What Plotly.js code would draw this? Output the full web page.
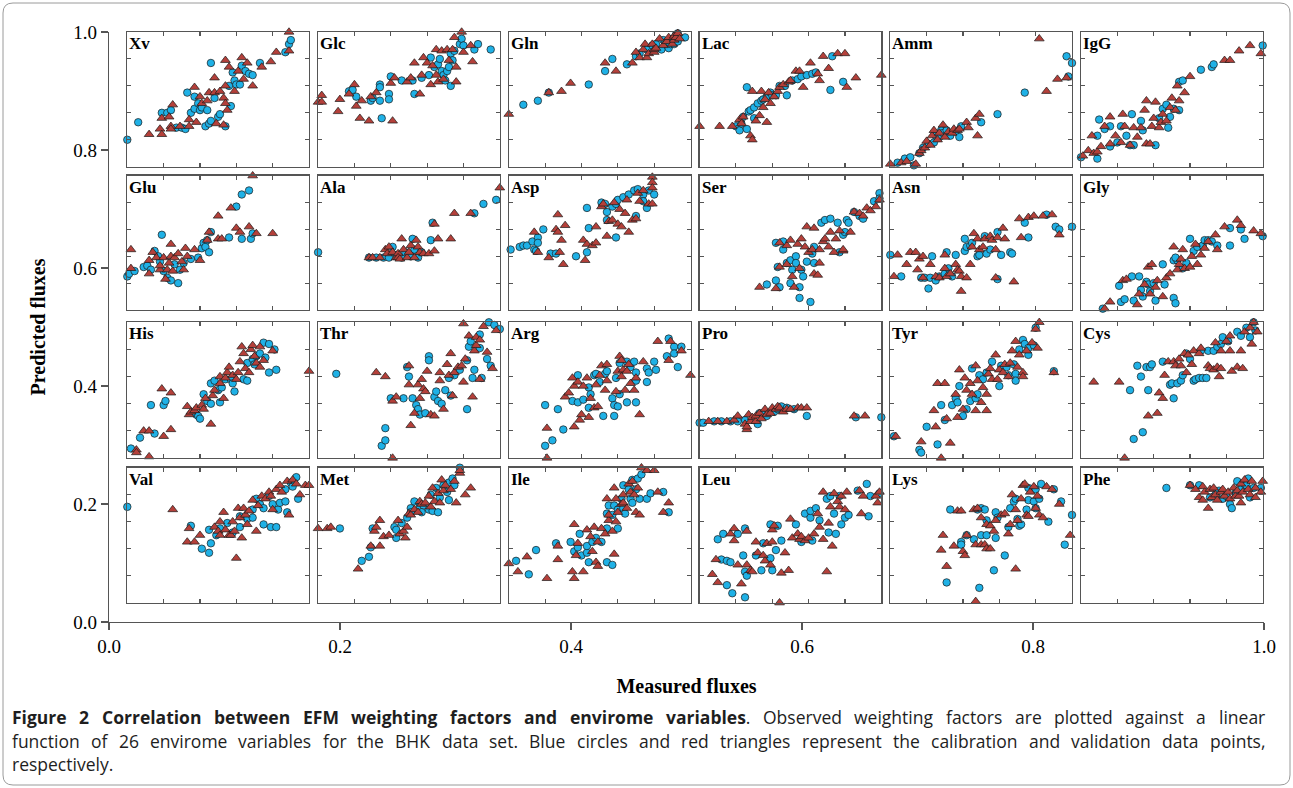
<!DOCTYPE html>
<html><head><meta charset="utf-8">
<script src="https://cdn.plot.ly/plotly-3.0.1.min.js"></script>
<style>html,body{margin:0;padding:0;background:#fff}#chart{width:1293px;height:788px}</style>
</head><body><div id="chart"></div>
<script>
const panelNames = ['Xv','Glc','Gln','Lac','Amm','IgG','Glu','Ala','Asp','Ser','Asn','Gly','His','Thr','Arg','Pro','Tyr','Cys','Val','Met','Ile','Leu','Lys','Phe'];
const outerTickValues = [0, 0.2, 0.4, 0.6, 0.8, 1.0];
const outerTickLabels = ['0.0', '0.2', '0.4', '0.6', '0.8', '1.0'];
const panelTickValues = [0.2, 0.4, 0.6, 0.8];
const xTitle = 'Measured fluxes';
const yTitle = 'Predicted fluxes';
const captionLines = [
  '<b>Figure 2 Correlation between EFM weighting factors and envirome variables</b>. Observed weighting factors are plotted against a linear',
  'function of 26 envirome variables for the BHK data set. Blue circles and red triangles represent the calibration and validation data points,',
  'respectively.'
];

// panel-local [measured, predicted] pairs; cal = blue circles, val = red triangles
const cal_Xv = [[0,0.2],[0.06,0.33],[0.19,0.4],[0.22,0.4],[0.24,0.42],[0.27,0.29],[0.3,0.29],[0.32,0.28],[0.33,0.55],[0.35,0.4],[0.37,0.52],[0.37,0.43],[0.39,0.47],[0.4,0.42],[0.41,0.44],[0.44,0.42],[0.43,0.3],[0.45,0.32],[0.46,0.34],[0.46,0.77],[0.48,0.51],[0.5,0.37],[0.51,0.39],[0.54,0.3],[0.57,0.45],[0.56,0.6],[0.58,0.7],[0.59,0.64],[0.6,0.61],[0.62,0.61],[0.63,0.75],[0.65,0.71],[0.67,0.69],[0.69,0.68],[0.73,0.77],[0.87,0.85],[0.89,0.91],[0.9,0.94]];
const val_Xv = [[0.12,0.24],[0.18,0.28],[0.19,0.24],[0.19,0.36],[0.23,0.37],[0.25,0.46],[0.24,0.3],[0.24,0.28],[0.29,0.3],[0.34,0.35],[0.34,0.3],[0.38,0.33],[0.37,0.59],[0.4,0.52],[0.41,0.47],[0.44,0.49],[0.45,0.55],[0.48,0.55],[0.48,0.66],[0.49,0.32],[0.51,0.56],[0.53,0.51],[0.54,0.6],[0.54,0.79],[0.53,0.31],[0.54,0.47],[0.55,0.42],[0.56,0.74],[0.59,0.56],[0.61,0.71],[0.63,0.81],[0.64,0.65],[0.66,0.77],[0.69,0.6],[0.74,0.74],[0.79,0.78],[0.82,0.85],[0.89,0.86],[0.89,1.0]];
const cal_Glc = [[0.17,0.56],[0.19,0.57],[0.21,0.52],[0.29,0.49],[0.3,0.51],[0.34,0.49],[0.34,0.61],[0.34,0.59],[0.35,0.36],[0.39,0.54],[0.39,0.5],[0.4,0.67],[0.46,0.64],[0.52,0.64],[0.53,0.54],[0.57,0.66],[0.61,0.68],[0.62,0.81],[0.64,0.74],[0.66,0.76],[0.67,0.8],[0.68,0.71],[0.69,0.68],[0.7,0.64],[0.71,0.71],[0.72,0.74],[0.73,0.84],[0.74,0.79],[0.73,0.6],[0.75,0.86],[0.78,0.91],[0.79,0.95],[0.8,0.9],[0.86,0.87],[0.88,0.91],[0.95,0.87]];
const val_Glc = [[0,0.48],[0.02,0.48],[0.02,0.53],[0.11,0.41],[0.12,0.5],[0.17,0.54],[0.2,0.61],[0.21,0.45],[0.23,0.36],[0.24,0.49],[0.28,0.34],[0.29,0.52],[0.32,0.55],[0.4,0.62],[0.41,0.34],[0.42,0.66],[0.49,0.63],[0.51,0.66],[0.53,0.77],[0.56,0.54],[0.57,0.68],[0.58,0.81],[0.6,0.77],[0.62,0.61],[0.63,0.75],[0.65,0.87],[0.65,0.68],[0.66,0.63],[0.68,0.86],[0.69,0.65],[0.71,0.87],[0.72,0.79],[0.74,0.87],[0.75,0.96],[0.76,0.74],[0.76,0.63],[0.79,1.0],[0.8,0.85],[0.84,0.9],[0.85,0.78]];
const cal_Gln = [[0.08,0.46],[0.16,0.49],[0.22,0.55],[0.44,0.61],[0.53,0.71],[0.57,0.8],[0.65,0.76],[0.7,0.82],[0.72,0.84],[0.76,0.87],[0.79,0.9],[0.81,0.91],[0.84,0.87],[0.85,0.94],[0.86,0.92],[0.88,0.88],[0.89,0.91],[0.9,0.95],[0.91,0.91],[0.92,0.98],[0.93,0.99],[0.93,0.93],[0.97,0.96]];
const val_Gln = [[0,0.39],[0.22,0.55],[0.29,0.56],[0.34,0.62],[0.53,0.77],[0.59,0.71],[0.68,0.77],[0.7,0.85],[0.72,0.81],[0.74,0.87],[0.75,0.91],[0.76,0.81],[0.77,0.84],[0.79,0.91],[0.8,0.85],[0.8,0.87],[0.81,0.88],[0.83,0.95],[0.85,0.9],[0.87,0.93],[0.88,0.96],[0.9,0.91],[0.91,0.97],[0.91,0.94],[0.92,0.96],[0.93,0.99],[0.94,0.95]];
const cal_Lac = [[0.2,0.3],[0.22,0.27],[0.23,0.32],[0.24,0.37],[0.26,0.28],[0.26,0.59],[0.27,0.41],[0.28,0.42],[0.3,0.44],[0.3,0.36],[0.32,0.47],[0.34,0.49],[0.35,0.5],[0.37,0.52],[0.39,0.55],[0.4,0.53],[0.42,0.53],[0.44,0.6],[0.47,0.6],[0.48,0.53],[0.51,0.64],[0.54,0.65],[0.56,0.67],[0.59,0.68],[0.62,0.69],[0.64,0.7],[0.72,0.57],[0.73,0.82],[0.79,0.63]];
const val_Lac = [[0,0.3],[0.11,0.3],[0.18,0.3],[0.22,0.35],[0.23,0.32],[0.24,0.37],[0.28,0.23],[0.29,0.2],[0.29,0.56],[0.31,0.34],[0.33,0.38],[0.34,0.56],[0.35,0.44],[0.36,0.5],[0.37,0.33],[0.38,0.55],[0.39,0.47],[0.41,0.52],[0.43,0.56],[0.44,0.59],[0.46,0.61],[0.49,0.63],[0.5,0.64],[0.53,0.71],[0.55,0.71],[0.57,0.59],[0.61,0.77],[0.65,0.69],[0.66,0.64],[0.68,0.82],[0.71,0.73],[0.76,0.84],[0.8,0.84],[0.81,0.59],[0.86,0.66],[1.0,0.68]];
const cal_Amm = [[0.04,0.03],[0.08,0.06],[0.11,0.07],[0.13,0.01],[0.16,0.1],[0.18,0.14],[0.21,0.17],[0.24,0.18],[0.25,0.23],[0.27,0.22],[0.28,0.27],[0.29,0.25],[0.31,0.27],[0.33,0.23],[0.36,0.26],[0.38,0.22],[0.39,0.3],[0.5,0.33],[0.59,0.39],[0.74,0.55],[0.97,0.82],[1.0,0.77],[0.98,0.67]];
const val_Amm = [[0,0.02],[0.06,0.03],[0.09,0.04],[0.14,0.02],[0.16,0.1],[0.17,0.12],[0.19,0.14],[0.2,0.19],[0.22,0.16],[0.23,0.23],[0.24,0.27],[0.26,0.2],[0.27,0.25],[0.29,0.31],[0.3,0.22],[0.32,0.26],[0.34,0.25],[0.35,0.28],[0.37,0.27],[0.38,0.28],[0.42,0.33],[0.43,0.29],[0.47,0.36],[0.48,0.23],[0.49,0.39],[0.82,0.95],[0.86,0.56],[0.92,0.65],[0.97,0.66]];
const cal_IgG = [[0,0.07],[0.09,0.06],[0.09,0.23],[0.1,0.35],[0.13,0.28],[0.16,0.3],[0.16,0.15],[0.2,0.18],[0.22,0.3],[0.25,0.23],[0.27,0.16],[0.28,0.39],[0.29,0.16],[0.33,0.34],[0.34,0.27],[0.41,0.16],[0.43,0.36],[0.45,0.43],[0.47,0.46],[0.48,0.29],[0.49,0.37],[0.51,0.43],[0.54,0.42],[0.54,0.63],[0.56,0.64],[0.66,0.72],[0.72,0.74],[0.73,0.76],[1.0,0.9]];
const val_IgG = [[0.01,0.08],[0.04,0.12],[0.06,0.23],[0.07,0.1],[0.09,0.11],[0.11,0.15],[0.13,0.3],[0.16,0.37],[0.16,0.17],[0.19,0.23],[0.22,0.18],[0.23,0.39],[0.24,0.3],[0.27,0.16],[0.29,0.29],[0.31,0.22],[0.33,0.29],[0.35,0.42],[0.36,0.49],[0.36,0.17],[0.38,0.17],[0.39,0.3],[0.4,0.36],[0.41,0.48],[0.43,0.29],[0.44,0.33],[0.45,0.39],[0.47,0.34],[0.49,0.44],[0.5,0.51],[0.52,0.42],[0.53,0.6],[0.54,0.49],[0.57,0.55],[0.6,0.67],[0.79,0.79],[0.82,0.79],[0.87,0.86],[0.93,0.9],[0.99,0.84]];
const cal_Glu = [[0,0.25],[0.01,0.27],[0.04,0.29],[0.09,0.32],[0.11,0.33],[0.13,0.3],[0.15,0.44],[0.17,0.4],[0.18,0.36],[0.19,0.56],[0.2,0.29],[0.22,0.24],[0.24,0.22],[0.26,0.34],[0.28,0.2],[0.29,0.3],[0.31,0.35],[0.35,0.38],[0.39,0.39],[0.41,0.46],[0.42,0.5],[0.43,0.47],[0.44,0.52],[0.45,0.43],[0.46,0.58],[0.56,0.54],[0.6,0.77],[0.63,0.53],[0.63,0.86],[0.67,0.89],[0.68,0.53],[0.69,0.57]];
const val_Glu = [[0.02,0.31],[0.02,0.45],[0.12,0.37],[0.12,0.27],[0.14,0.43],[0.16,0.39],[0.18,0.3],[0.18,0.33],[0.2,0.39],[0.21,0.23],[0.22,0.3],[0.23,0.35],[0.24,0.4],[0.24,0.49],[0.25,0.29],[0.26,0.39],[0.28,0.42],[0.3,0.36],[0.31,0.3],[0.32,0.46],[0.33,0.4],[0.37,0.45],[0.4,0.37],[0.44,0.52],[0.45,0.58],[0.5,0.53],[0.5,0.7],[0.52,0.53],[0.57,0.76],[0.6,0.61],[0.62,0.58],[0.67,0.62],[0.69,1.0],[0.71,0.57],[0.8,0.57]];
const cal_Ala = [[0,0.43],[0.28,0.39],[0.32,0.39],[0.36,0.39],[0.39,0.39],[0.41,0.47],[0.43,0.41],[0.46,0.39],[0.48,0.43],[0.51,0.4],[0.52,0.53],[0.53,0.45],[0.55,0.39],[0.57,0.43],[0.62,0.52],[0.63,0.65],[0.86,0.72],[0.91,0.79],[0.98,0.82]];
const val_Ala = [[0.28,0.39],[0.3,0.39],[0.34,0.39],[0.37,0.45],[0.38,0.42],[0.39,0.47],[0.41,0.43],[0.43,0.39],[0.44,0.42],[0.44,0.39],[0.45,0.38],[0.46,0.53],[0.47,0.45],[0.49,0.39],[0.5,0.43],[0.51,0.48],[0.53,0.39],[0.54,0.52],[0.55,0.47],[0.56,0.43],[0.58,0.42],[0.61,0.42],[0.64,0.44],[0.64,0.64],[0.66,0.53],[0.73,0.53],[0.75,0.72],[0.84,0.72],[1.0,0.91]];
const cal_Asp = [[0.01,0.45],[0.06,0.47],[0.08,0.48],[0.1,0.48],[0.13,0.51],[0.14,0.45],[0.15,0.44],[0.16,0.54],[0.16,0.5],[0.19,0.6],[0.23,0.42],[0.26,0.42],[0.37,0.4],[0.43,0.76],[0.43,0.43],[0.44,0.61],[0.51,0.8],[0.53,0.79],[0.54,0.73],[0.54,0.67],[0.57,0.77],[0.59,0.79],[0.59,0.54],[0.6,0.82],[0.63,0.84],[0.66,0.86],[0.69,0.89],[0.7,0.7],[0.71,0.9],[0.74,0.86],[0.74,0.81],[0.76,0.76],[0.77,0.89],[0.8,0.86]];
const val_Asp = [[0.14,0.58],[0.16,0.43],[0.22,0.39],[0.26,0.6],[0.27,0.71],[0.27,0.58],[0.28,0.43],[0.29,0.52],[0.3,0.34],[0.31,0.63],[0.41,0.52],[0.42,0.37],[0.43,0.49],[0.46,0.48],[0.48,0.5],[0.48,0.62],[0.51,0.77],[0.52,0.79],[0.54,0.55],[0.55,0.66],[0.57,0.67],[0.58,0.8],[0.6,0.64],[0.61,0.75],[0.62,0.62],[0.64,0.72],[0.65,0.82],[0.66,0.58],[0.68,0.67],[0.7,0.68],[0.71,0.87],[0.72,0.81],[0.74,0.89],[0.77,0.79],[0.79,0.99],[0.79,0.95],[0.79,0.91],[0.79,0.79]];
const cal_Ser = [[0.37,0.19],[0.42,0.5],[0.43,0.32],[0.42,0.22],[0.44,0.17],[0.46,0.51],[0.46,0.45],[0.48,0.35],[0.5,0.2],[0.5,0.37],[0.51,0.3],[0.53,0.4],[0.53,0.35],[0.55,0.17],[0.55,0.09],[0.56,0.3],[0.57,0.25],[0.59,0.36],[0.61,0.06],[0.62,0.42],[0.63,0.35],[0.63,0.47],[0.67,0.65],[0.69,0.67],[0.72,0.68],[0.76,0.65],[0.79,0.56],[0.8,0.58],[0.77,0.43],[0.81,0.67],[0.82,0.65],[0.85,0.73],[0.88,0.7],[0.9,0.68],[0.96,0.81],[0.99,0.87],[0.99,0.83]];
const val_Ser = [[0.33,0.17],[0.42,0.16],[0.44,0.32],[0.44,0.5],[0.48,0.34],[0.48,0.48],[0.5,0.52],[0.51,0.25],[0.52,0.17],[0.54,0.49],[0.55,0.31],[0.56,0.53],[0.57,-0.02],[0.58,0.47],[0.59,0.62],[0.6,0.43],[0.62,0.45],[0.63,0.27],[0.65,0.26],[0.66,0.35],[0.66,0.45],[0.68,0.51],[0.69,0.53],[0.71,0.47],[0.72,0.58],[0.74,0.43],[0.75,0.53],[0.77,0.59],[0.79,0.44],[0.79,0.45],[0.83,0.58],[0.85,0.73],[0.88,0.72],[0.9,0.7],[0.92,0.76],[0.94,0.74],[0.97,0.77],[0.99,0.82],[0.63,0.61]];
const cal_Asn = [[0,0.41],[0.06,0.25],[0.17,0.24],[0.19,0.24],[0.21,0.16],[0.22,0.24],[0.23,0.4],[0.25,0.22],[0.27,0.25],[0.3,0.27],[0.31,0.43],[0.32,0.31],[0.34,0.25],[0.36,0.41],[0.41,0.53],[0.41,0.44],[0.42,0.47],[0.44,0.48],[0.45,0.5],[0.48,0.4],[0.49,0.41],[0.52,0.55],[0.53,0.42],[0.55,0.45],[0.59,0.58],[0.59,0.23],[0.61,0.41],[0.66,0.43],[0.67,0.42],[0.74,0.65],[0.76,0.54],[0.86,0.71],[0.91,0.62],[0.93,0.6],[1.0,0.62]];
const val_Asn = [[0.02,0.25],[0.04,0.41],[0.09,0.34],[0.11,0.43],[0.14,0.43],[0.15,0.3],[0.16,0.38],[0.18,0.4],[0.18,0.24],[0.22,0.34],[0.25,0.25],[0.27,0.24],[0.3,0.31],[0.3,0.41],[0.31,0.25],[0.33,0.27],[0.36,0.34],[0.37,0.3],[0.38,0.29],[0.39,0.14],[0.39,0.25],[0.42,0.24],[0.44,0.34],[0.45,0.47],[0.46,0.57],[0.48,0.53],[0.49,0.45],[0.51,0.47],[0.52,0.53],[0.55,0.55],[0.56,0.52],[0.58,0.45],[0.58,0.24],[0.59,0.54],[0.62,0.61],[0.63,0.53],[0.68,0.21],[0.71,0.68],[0.72,0.54],[0.76,0.69],[0.79,0.7],[0.84,0.7],[0.89,0.71],[0.93,0.56]];
const cal_Gly = [[0.1,-0.01],[0.12,0.01],[0.21,0.18],[0.22,0.06],[0.24,0.08],[0.28,0.25],[0.29,0.07],[0.32,0.25],[0.33,0.15],[0.34,0.1],[0.36,0.21],[0.37,0.19],[0.38,0.14],[0.4,0.2],[0.41,0.07],[0.45,0.34],[0.46,0.19],[0.51,0.09],[0.52,0.05],[0.51,0.37],[0.53,0.37],[0.56,0.31],[0.58,0.35],[0.6,0.53],[0.62,0.44],[0.64,0.47],[0.67,0.48],[0.68,0.52],[0.7,0.52],[0.72,0.51],[0.75,0.48],[0.82,0.48],[0.82,0.61],[0.88,0.6],[0.9,0.53],[1.0,0.55],[0.52,0.39]];
const val_Gly = [[0.13,0.01],[0.16,0.06],[0.23,0.22],[0.25,0.23],[0.31,0.04],[0.31,-0.01],[0.32,0.12],[0.35,0.19],[0.37,0.32],[0.38,0.12],[0.39,0.34],[0.41,0.17],[0.42,0.22],[0.45,0.1],[0.47,0.24],[0.49,0.27],[0.51,0.47],[0.53,0.3],[0.54,0.34],[0.55,0.38],[0.56,0.45],[0.57,0.31],[0.6,0.32],[0.61,0.4],[0.62,-0.02],[0.63,0.49],[0.64,0.34],[0.66,0.41],[0.68,0.46],[0.7,0.51],[0.74,0.56],[0.75,0.45],[0.79,0.62],[0.86,0.67],[0.88,0.63],[0.95,0.59],[0.99,0.57]];
const cal_His = [[0.02,0.07],[0.07,0.15],[0.13,0.39],[0.15,0.18],[0.2,0.39],[0.21,0.42],[0.38,0.32],[0.39,0.31],[0.4,0.29],[0.42,0.47],[0.44,0.42],[0.46,0.4],[0.46,0.55],[0.48,0.57],[0.5,0.5],[0.51,0.41],[0.52,0.52],[0.54,0.58],[0.57,0.58],[0.58,0.55],[0.59,0.49],[0.64,0.58],[0.66,0.57],[0.66,0.7],[0.69,0.73],[0.71,0.75],[0.73,0.77],[0.75,0.85],[0.76,0.74],[0.78,0.84],[0.78,0.63],[0.81,0.8],[0.82,0.65],[0.7,0.69]];
const val_His = [[0.05,0.06],[0.05,0.04],[0.09,0.2],[0.12,0.2],[0.12,0.01],[0.2,0.16],[0.19,0.51],[0.24,0.48],[0.24,0.21],[0.33,0.38],[0.34,0.32],[0.35,0.34],[0.37,0.35],[0.38,0.37],[0.41,0.39],[0.42,0.36],[0.43,0.44],[0.46,0.25],[0.47,0.46],[0.48,0.5],[0.51,0.6],[0.51,0.55],[0.53,0.44],[0.54,0.59],[0.55,0.63],[0.56,0.67],[0.58,0.61],[0.6,0.58],[0.61,0.63],[0.62,0.71],[0.63,0.82],[0.64,0.77],[0.65,0.66],[0.67,0.63],[0.68,0.8],[0.69,0.83],[0.7,0.75],[0.71,0.7],[0.73,0.67],[0.73,0.82],[0.75,0.72],[0.8,0.79],[1.0,0.64]];
const cal_Thr = [[0.1,0.62],[0.35,0.09],[0.37,0.13],[0.37,0.22],[0.4,0.44],[0.47,0.44],[0.49,0.67],[0.5,0.6],[0.52,0.44],[0.54,0.39],[0.55,0.36],[0.56,0.32],[0.59,0.33],[0.61,0.75],[0.61,0.72],[0.64,0.45],[0.65,0.49],[0.66,0.42],[0.68,0.4],[0.7,0.5],[0.72,0.59],[0.73,0.46],[0.75,0.61],[0.78,0.65],[0.82,0.72],[0.82,0.36],[0.83,0.82],[0.84,0.86],[0.85,0.59],[0.86,0.65],[0.89,0.91],[0.89,0.81],[0.9,0.59],[0.93,0.73],[0.94,1.0],[0.95,0.68],[0.97,0.98],[1.0,0.95]];
const val_Thr = [[0.32,0.63],[0.37,0.6],[0.41,0.0],[0.41,0.42],[0.43,0.45],[0.5,0.54],[0.5,0.68],[0.51,0.24],[0.53,0.33],[0.55,0.54],[0.56,0.44],[0.57,0.58],[0.58,0.51],[0.59,0.49],[0.6,0.64],[0.62,0.32],[0.64,0.31],[0.67,0.63],[0.67,0.57],[0.69,0.36],[0.71,0.69],[0.72,0.61],[0.73,0.77],[0.74,0.46],[0.75,0.63],[0.77,0.67],[0.79,0.68],[0.8,0.99],[0.8,0.56],[0.81,0.73],[0.83,0.9],[0.85,0.45],[0.86,0.79],[0.87,0.83],[0.87,0.89],[0.89,0.58],[0.89,0.87],[0.91,0.97],[0.93,0.78],[0.96,0.66],[0.98,0.94]];
const cal_Arg = [[0.2,0.39],[0.2,0.09],[0.24,0.13],[0.27,0.36],[0.3,0.21],[0.35,0.42],[0.38,0.61],[0.38,0.41],[0.41,0.43],[0.44,0.37],[0.44,0.52],[0.45,0.47],[0.47,0.61],[0.48,0.62],[0.5,0.56],[0.52,0.31],[0.53,0.62],[0.54,0.64],[0.57,0.44],[0.58,0.39],[0.58,0.31],[0.59,0.59],[0.6,0.38],[0.61,0.47],[0.61,0.7],[0.65,0.71],[0.65,0.41],[0.67,0.67],[0.69,0.71],[0.7,0.41],[0.7,0.63],[0.7,0.57],[0.76,0.66],[0.76,0.56],[0.77,0.63],[0.8,0.71],[0.81,0.65],[0.87,0.75],[0.88,0.88],[0.91,0.82],[0.91,0.77],[0.93,0.67],[0.95,0.82]];
const val_Arg = [[0.21,0.22],[0.21,0.0],[0.31,0.45],[0.33,0.48],[0.35,0.59],[0.36,0.53],[0.36,0.23],[0.38,0.56],[0.39,0.28],[0.4,0.32],[0.41,0.53],[0.43,0.59],[0.44,0.3],[0.45,0.44],[0.47,0.37],[0.49,0.38],[0.48,0.54],[0.5,0.61],[0.51,0.68],[0.53,0.5],[0.54,0.69],[0.54,0.57],[0.59,0.49],[0.6,0.64],[0.61,0.75],[0.62,0.72],[0.62,0.6],[0.63,0.65],[0.64,0.5],[0.65,0.64],[0.66,0.69],[0.67,0.55],[0.69,0.5],[0.7,0.59],[0.72,0.32],[0.74,0.71],[0.82,0.86],[0.88,0.72],[0.89,0.86],[0.95,0.79],[1.0,0.61]];
const cal_Pro = [[0,0.26],[0.02,0.26],[0.08,0.27],[0.12,0.27],[0.17,0.27],[0.21,0.27],[0.25,0.28],[0.32,0.25],[0.33,0.33],[0.35,0.32],[0.37,0.31],[0.41,0.34],[0.43,0.36],[0.45,0.38],[0.48,0.37],[0.52,0.36],[0.59,0.31],[0.86,0.3],[1.0,0.3]];
const val_Pro = [[0.05,0.27],[0.1,0.27],[0.15,0.27],[0.19,0.28],[0.21,0.31],[0.25,0.25],[0.26,0.21],[0.26,0.23],[0.27,0.32],[0.28,0.27],[0.29,0.3],[0.31,0.27],[0.31,0.31],[0.33,0.33],[0.34,0.29],[0.36,0.36],[0.37,0.32],[0.39,0.33],[0.4,0.37],[0.42,0.36],[0.43,0.38],[0.44,0.37],[0.46,0.34],[0.48,0.36],[0.5,0.36],[0.54,0.37],[0.56,0.37],[0.59,0.37],[0.85,0.31],[0.91,0.31]];
const cal_Tyr = [[0.02,0.16],[0.16,0.06],[0.17,0.04],[0.2,0.23],[0.26,0.1],[0.28,0.39],[0.3,0.28],[0.34,0.39],[0.36,0.44],[0.37,0.41],[0.38,0.53],[0.4,0.31],[0.42,0.36],[0.44,0.42],[0.45,0.66],[0.47,0.44],[0.48,0.47],[0.49,0.61],[0.51,0.58],[0.53,0.63],[0.56,0.71],[0.6,0.53],[0.61,0.68],[0.64,0.67],[0.65,0.61],[0.68,0.69],[0.69,0.62],[0.69,0.57],[0.71,0.8],[0.73,0.87],[0.74,0.84],[0.76,0.76],[0.76,0.81],[0.79,0.83],[0.8,0.96],[0.9,0.64]];
const val_Tyr = [[0.03,0.16],[0.17,0.12],[0.25,0.23],[0.24,0.35],[0.26,0.55],[0.28,0.0],[0.3,0.55],[0.31,0.29],[0.33,0.11],[0.36,0.47],[0.37,0.3],[0.38,0.65],[0.4,0.36],[0.41,0.59],[0.42,0.5],[0.44,0.55],[0.45,0.47],[0.47,0.35],[0.47,0.68],[0.48,0.57],[0.5,0.41],[0.51,0.52],[0.53,0.47],[0.53,0.35],[0.54,0.62],[0.55,0.66],[0.56,0.58],[0.58,0.76],[0.59,0.58],[0.6,0.65],[0.62,0.63],[0.63,0.69],[0.65,0.6],[0.66,0.7],[0.67,0.79],[0.69,0.86],[0.7,0.67],[0.71,0.76],[0.73,0.63],[0.73,0.6],[0.75,0.79],[0.78,0.85],[0.8,0.95],[0.81,0.81],[0.82,1.0],[0.9,0.63]];
const cal_Cys = [[0.27,0.5],[0.29,0.14],[0.31,0.68],[0.33,0.6],[0.34,0.19],[0.36,0.67],[0.37,0.5],[0.38,0.67],[0.39,0.69],[0.45,0.71],[0.49,0.54],[0.5,0.55],[0.51,0.44],[0.53,0.55],[0.55,0.57],[0.56,0.61],[0.58,0.77],[0.6,0.73],[0.62,0.57],[0.63,0.58],[0.65,0.59],[0.66,0.79],[0.67,0.59],[0.69,0.59],[0.7,0.79],[0.73,0.79],[0.75,0.82],[0.77,0.84],[0.78,0.89],[0.81,0.86],[0.86,0.93],[0.88,0.9],[0.91,0.96],[0.93,0.89],[0.95,1.0],[0.96,0.94]];
const val_Cys = [[0.07,0.56],[0.21,0.56],[0.24,0.0],[0.37,0.31],[0.42,0.33],[0.43,0.48],[0.45,0.44],[0.46,0.61],[0.48,0.71],[0.51,0.71],[0.52,0.68],[0.54,0.73],[0.55,0.68],[0.57,0.77],[0.58,0.63],[0.59,0.76],[0.61,0.69],[0.62,0.79],[0.65,0.77],[0.66,0.81],[0.7,0.68],[0.71,0.66],[0.73,0.65],[0.74,0.85],[0.75,0.67],[0.76,0.6],[0.77,0.66],[0.77,0.79],[0.8,0.86],[0.82,0.9],[0.82,0.79],[0.83,0.64],[0.86,0.67],[0.88,0.79],[0.89,0.66],[0.9,0.93],[0.93,0.96],[0.94,0.84],[0.95,1.0],[0.97,0.93]];
const cal_Val = [[0,0.71],[0.35,0.57],[0.41,0.4],[0.45,0.54],[0.45,0.37],[0.46,0.44],[0.49,0.5],[0.51,0.55],[0.55,0.59],[0.58,0.52],[0.62,0.56],[0.62,0.64],[0.66,0.62],[0.69,0.63],[0.71,0.77],[0.73,0.73],[0.75,0.7],[0.75,0.58],[0.78,0.79],[0.79,0.56],[0.8,0.73],[0.82,0.56],[0.83,0.69],[0.84,0.74],[0.87,0.75],[0.87,0.84],[0.88,0.67],[0.9,0.89],[0.91,0.86],[0.93,0.93],[0.94,0.77],[0.69,0.69]];
const val_Val = [[0.25,0.69],[0.33,0.45],[0.34,0.55],[0.37,0.45],[0.4,0.5],[0.48,0.56],[0.5,0.53],[0.51,0.6],[0.51,0.5],[0.53,0.67],[0.54,0.54],[0.56,0.5],[0.57,0.5],[0.58,0.6],[0.59,0.53],[0.6,0.33],[0.61,0.7],[0.62,0.63],[0.63,0.48],[0.64,0.7],[0.65,0.65],[0.66,0.58],[0.67,0.68],[0.69,0.76],[0.71,0.53],[0.72,0.72],[0.74,0.79],[0.76,0.77],[0.78,0.82],[0.79,0.79],[0.8,0.69],[0.82,0.84],[0.84,0.87],[0.85,0.82],[0.88,0.9],[0.89,0.65],[0.91,0.91],[0.93,0.88],[0.95,0.8],[0.98,0.87],[1.0,0.87]];
const cal_Met = [[0.12,0.55],[0.24,0.31],[0.28,0.34],[0.29,0.41],[0.3,0.55],[0.42,0.56],[0.43,0.48],[0.43,0.54],[0.46,0.59],[0.49,0.63],[0.51,0.7],[0.53,0.75],[0.56,0.71],[0.58,0.72],[0.61,0.69],[0.62,0.8],[0.63,0.68],[0.65,0.85],[0.66,0.67],[0.67,0.78],[0.69,0.87],[0.71,0.82],[0.72,0.76],[0.72,0.89],[0.74,0.92],[0.75,0.87],[0.78,1.0],[0.51,0.67],[0.57,0.67]];
const val_Met = [[0,0.55],[0.05,0.55],[0.07,0.56],[0.22,0.25],[0.29,0.42],[0.31,0.53],[0.32,0.56],[0.34,0.61],[0.34,0.42],[0.36,0.49],[0.39,0.5],[0.44,0.61],[0.45,0.51],[0.47,0.53],[0.48,0.48],[0.49,0.56],[0.5,0.66],[0.51,0.65],[0.53,0.69],[0.55,0.67],[0.56,0.75],[0.57,0.73],[0.59,0.74],[0.61,0.79],[0.62,0.71],[0.63,0.85],[0.64,0.75],[0.66,0.81],[0.67,0.74],[0.68,0.91],[0.69,0.83],[0.7,0.87],[0.73,0.84],[0.75,0.9],[0.76,0.74],[0.78,0.96],[0.78,0.98],[0.81,0.8],[0.84,0.85]];
const cal_Ile = [[0.04,0.31],[0.11,0.21],[0.15,0.39],[0.26,0.44],[0.34,0.45],[0.36,0.38],[0.38,0.41],[0.39,0.51],[0.4,0.35],[0.43,0.37],[0.43,0.42],[0.44,0.3],[0.46,0.45],[0.48,0.48],[0.51,0.45],[0.54,0.3],[0.54,0.55],[0.54,0.66],[0.55,0.72],[0.57,0.28],[0.57,0.65],[0.58,0.72],[0.6,0.69],[0.6,0.55],[0.62,0.77],[0.63,0.87],[0.63,0.7],[0.64,0.66],[0.66,0.84],[0.67,0.77],[0.68,0.91],[0.68,0.74],[0.7,0.84],[0.71,0.92],[0.72,0.77],[0.73,0.95],[0.76,0.77],[0.78,0.81],[0.85,0.82],[0.88,0.67]];
const val_Ile = [[0,0.29],[0.05,0.23],[0.1,0.34],[0.21,0.18],[0.27,0.32],[0.27,0.42],[0.35,0.23],[0.36,0.18],[0.36,0.58],[0.37,0.35],[0.38,0.44],[0.41,0.23],[0.43,0.54],[0.45,0.49],[0.46,0.38],[0.47,0.56],[0.48,0.3],[0.49,0.27],[0.49,0.45],[0.51,0.55],[0.53,0.51],[0.54,0.77],[0.55,0.61],[0.55,0.65],[0.57,0.53],[0.58,0.85],[0.58,0.36],[0.59,0.77],[0.59,0.6],[0.6,0.67],[0.62,0.73],[0.63,0.8],[0.63,0.74],[0.65,0.7],[0.66,0.88],[0.67,0.82],[0.68,0.9],[0.69,0.8],[0.7,0.67],[0.71,0.85],[0.72,0.65],[0.73,1.0],[0.76,0.98],[0.8,0.98],[0.82,0.82],[0.85,0.67],[0.88,0.74]];
const cal_Leu = [[0.1,0.47],[0.12,0.32],[0.13,0.51],[0.15,0.31],[0.17,0.3],[0.15,0.13],[0.18,0.07],[0.21,0.51],[0.24,0.35],[0.25,0.55],[0.25,0.23],[0.26,0.2],[0.25,0.04],[0.31,0.35],[0.34,0.24],[0.35,0.44],[0.39,0.33],[0.39,0.58],[0.4,0.24],[0.42,0.39],[0.43,0.57],[0.45,0.46],[0.53,0.58],[0.56,0.45],[0.58,0.66],[0.61,0.63],[0.61,0.68],[0.62,0.46],[0.64,0.7],[0.66,0.61],[0.7,0.77],[0.71,0.52],[0.72,0.79],[0.74,0.66],[0.75,0.51],[0.77,0.79],[0.78,0.58],[0.8,0.63],[0.82,0.65],[0.87,0.83],[0.92,0.88],[0.93,0.64],[0.94,0.79],[0.99,0.81]];
const val_Leu = [[0.07,0.21],[0.09,0.32],[0.1,0.15],[0.17,0.51],[0.19,0.55],[0.19,0.46],[0.21,0.28],[0.23,0.14],[0.26,0.53],[0.26,0.28],[0.28,0.24],[0.29,0.23],[0.31,0.45],[0.32,0.37],[0.35,0.35],[0.36,0.31],[0.37,0.44],[0.39,0.28],[0.4,0.54],[0.4,0.45],[0.41,0.57],[0.44,0.0],[0.45,0.22],[0.47,0.37],[0.49,0.24],[0.5,0.62],[0.51,0.48],[0.54,0.51],[0.55,0.47],[0.56,0.49],[0.58,0.46],[0.6,0.48],[0.63,0.51],[0.65,0.66],[0.66,0.56],[0.68,0.82],[0.68,0.47],[0.7,0.23],[0.71,0.59],[0.72,0.71],[0.73,0.42],[0.74,0.81],[0.76,0.75],[0.77,0.71],[0.78,0.79],[0.8,0.69],[0.81,0.82],[0.88,0.83],[0.89,0.66],[0.9,0.79],[0.97,0.79],[0.98,0.74],[0.99,0.82]];
const cal_Lys = [[0.31,0.15],[0.33,0.69],[0.39,0.45],[0.39,0.43],[0.42,0.5],[0.46,0.47],[0.48,0.69],[0.49,0.11],[0.5,0.7],[0.5,0.5],[0.52,0.69],[0.53,0.61],[0.53,0.5],[0.57,0.24],[0.58,0.67],[0.58,0.48],[0.59,0.63],[0.63,0.35],[0.65,0.56],[0.66,0.7],[0.68,0.75],[0.69,0.77],[0.7,0.62],[0.71,0.57],[0.72,0.58],[0.75,0.69],[0.76,0.76],[0.76,0.85],[0.79,0.75],[0.8,0.84],[0.8,0.7],[0.82,0.77],[0.83,0.88],[0.87,0.6],[0.9,0.84],[0.94,0.75],[0.96,0.43],[1.0,0.65]];
const val_Lys = [[0.28,0.39],[0.29,0.5],[0.31,0.27],[0.35,0.42],[0.37,0.68],[0.39,0.68],[0.4,0.38],[0.41,0.35],[0.42,0.5],[0.46,0.69],[0.47,0.43],[0.47,0.01],[0.48,0.7],[0.5,0.43],[0.5,0.63],[0.52,0.43],[0.53,0.58],[0.53,0.4],[0.55,0.57],[0.55,0.4],[0.57,0.53],[0.58,0.61],[0.61,0.65],[0.63,0.66],[0.65,0.51],[0.66,0.58],[0.67,0.8],[0.69,0.25],[0.69,0.69],[0.7,0.61],[0.72,0.77],[0.73,0.87],[0.74,0.88],[0.75,0.65],[0.76,0.64],[0.77,0.82],[0.79,0.86],[0.8,0.7],[0.81,0.79],[0.82,0.65],[0.84,0.63],[0.86,0.86],[0.89,0.84],[0.93,0.73],[0.99,0.5]];
const cal_Phe = [[0.47,0.85],[0.6,0.87],[0.65,0.87],[0.71,0.78],[0.74,0.8],[0.76,0.83],[0.78,0.77],[0.8,0.79],[0.82,0.73],[0.83,0.7],[0.85,0.81],[0.86,0.9],[0.88,0.84],[0.9,0.88],[0.91,0.87],[0.92,0.92],[0.93,0.78],[0.95,0.85],[0.99,0.85]];
const val_Phe = [[0.6,0.87],[0.63,0.84],[0.65,0.78],[0.67,0.76],[0.67,0.86],[0.68,0.82],[0.7,0.7],[0.71,0.84],[0.72,0.78],[0.73,0.85],[0.74,0.8],[0.75,0.76],[0.77,0.82],[0.78,0.84],[0.79,0.79],[0.81,0.82],[0.82,0.77],[0.84,0.85],[0.85,0.79],[0.86,0.83],[0.87,0.79],[0.88,0.74],[0.88,0.88],[0.89,0.82],[0.9,0.91],[0.92,0.84],[0.93,0.8],[0.94,0.9],[0.96,0.85],[0.96,0.78],[1.0,0.9],[0.99,0.82]];

const calData = [cal_Xv,cal_Glc,cal_Gln,cal_Lac,cal_Amm,cal_IgG,cal_Glu,cal_Ala,cal_Asp,cal_Ser,cal_Asn,cal_Gly,cal_His,cal_Thr,cal_Arg,cal_Pro,cal_Tyr,cal_Cys,cal_Val,cal_Met,cal_Ile,cal_Leu,cal_Lys,cal_Phe];
const valData = [val_Xv,val_Glc,val_Gln,val_Lac,val_Amm,val_IgG,val_Glu,val_Ala,val_Asp,val_Ser,val_Asn,val_Gly,val_His,val_Thr,val_Arg,val_Pro,val_Tyr,val_Cys,val_Val,val_Met,val_Ile,val_Leu,val_Lys,val_Phe];

// ---- layout geometry (pixels) ----
const W = 1293, H = 788;
const M = {l: 109, r: 29, t: 32, b: 166};
const PW = W - M.l - M.r, PH = H - M.t - M.b;
const px2x = p => (p - M.l) / PW;
const px2y = p => (H - M.b - p) / PH;
const colLeftPx = [127.3, 318.1, 508.8, 699.6, 890.3, 1081];
const colWidthPx = 181.7;
const rowTopPx = [31, 175.7, 322.3, 467.7];
const rowBottomPx = [166.7, 310, 458, 602.7];

const AXC = '#555555';
const SERIF = 'Liberation Serif, Times New Roman, serif';
const BLUE = '#1fb1e6', RED = '#b4403a', EDGE = '#1a1a1a';

const traces = [];
const layout = {
  width: W, height: H,
  margin: M,
  paper_bgcolor: '#ffffff',
  plot_bgcolor: 'rgba(0,0,0,0)',
  showlegend: false,
  annotations: [],
  shapes: []
};

panelNames.forEach((name, k) => {
  const i = k + 1;
  const xs = i === 1 ? '' : String(i);
  const r = Math.floor(k / 6), c = k % 6;
  const xd = [px2x(colLeftPx[c]), px2x(colLeftPx[c] + colWidthPx)];
  const yd = [px2y(rowBottomPx[r]), px2y(rowTopPx[r])];
  const common = {
    range: [0, 1], showgrid: false, zeroline: false, showline: true, linecolor: AXC, linewidth: 1.3,
    mirror: 'ticks', ticks: 'inside', ticklen: 4, tickwidth: 1.1, tickcolor: AXC,
    tickvals: panelTickValues, showticklabels: false, fixedrange: true
  };
  layout['xaxis' + xs] = Object.assign({}, common, {domain: xd, anchor: 'y' + xs});
  layout['yaxis' + xs] = Object.assign({}, common, {domain: yd, anchor: 'x' + xs});
  traces.push({
    type: 'scatter', mode: 'markers', xaxis: 'x' + xs, yaxis: 'y' + xs, cliponaxis: false,
    x: calData[k].map(p => p[0]), y: calData[k].map(p => p[1]), name: name + ' calibration',
    marker: {symbol: 'circle', size: 7.5, color: BLUE, line: {color: EDGE, width: 0.7}}, hoverinfo: 'x+y+name'
  });
  traces.push({
    type: 'scatter', mode: 'markers', xaxis: 'x' + xs, yaxis: 'y' + xs, cliponaxis: false,
    x: valData[k].map(p => p[0]), y: valData[k].map(p => p[1]), name: name + ' validation',
    marker: {symbol: 'triangle-up', size: 8.5, color: RED, line: {color: EDGE, width: 0.7}}, hoverinfo: 'x+y+name'
  });
  layout.annotations.push({
    xref: 'x' + xs + ' domain', yref: 'y' + xs + ' domain', x: 0.0, y: 1.0,
    xanchor: 'left', yanchor: 'top', showarrow: false, text: '<b>' + name + '</b>',
    font: {family: SERIF, size: 17, color: '#000'}
  });
});

// outer frame axes
layout.xaxis25 = {
  domain: [0, 1], anchor: 'y25', range: [0, 1], showgrid: false, zeroline: false,
  showline: true, linecolor: AXC, linewidth: 1.3, ticks: 'outside', ticklen: 7, tickwidth: 1.2, tickcolor: AXC,
  tickvals: outerTickValues, ticktext: outerTickLabels, tickfont: {family: SERIF, size: 19, color: '#000'},
  title: {text: '<b>' + xTitle + '</b>', font: {family: SERIF, size: 20, color: '#000'}, standoff: 23},
  fixedrange: true
};
layout.yaxis25 = {
  domain: [0, 1], anchor: 'x25', range: [0, 1], showgrid: false, zeroline: false,
  showline: true, linecolor: AXC, linewidth: 1.3, ticks: 'outside', ticklen: 7, tickwidth: 1.2, tickcolor: AXC,
  tickvals: outerTickValues, ticktext: outerTickLabels, tickfont: {family: SERIF, size: 19, color: '#000'},
  title: {text: '<b>' + yTitle + '</b>', font: {family: SERIF, size: 20, color: '#000'}, standoff: 22},
  fixedrange: true
};
traces.push({type: 'scatter', mode: 'markers', x: [null], y: [null], xaxis: 'x25', yaxis: 'y25', showlegend: false, hoverinfo: 'skip'});

// caption: justified lines (word positions measured with canvas in the same font)
const CAP_FONT = 'Open Sans';
const CAP_SIZE = 17.5;
const captionY = [717, 741, 764];
const capLeftPx = 12, capRightPx = 1265;
const mctx = document.createElement('canvas').getContext('2d');
function measureRich(s) {
  let w = 0, bold = false;
  s.split(/(<\/?b>)/).forEach(seg => {
    if (seg === '<b>') { bold = true; return; }
    if (seg === '</b>') { bold = false; return; }
    if (!seg) return;
    mctx.font = (bold ? 'bold ' : '') + CAP_SIZE + 'px "' + CAP_FONT + '"';
    w += mctx.measureText(seg).width;
  });
  return w;
}
function splitWords(line) {
  const words = [];
  let bold = false;
  line.split(' ').forEach(raw => {
    const clean = raw.replace(/<\/?b>/g, '');
    let rich;
    if (raw.indexOf('</b>') >= 0) {
      const parts = raw.replace('<b>', '').split('</b>');
      rich = '<b>' + parts[0] + '</b>' + parts[1];
      bold = false;
    } else if (bold || raw.indexOf('<b>') >= 0) {
      rich = '<b>' + clean + '</b>';
      bold = true;
    } else {
      rich = clean;
    }
    words.push(rich);
  });
  return words;
}
captionLines.map(splitWords).forEach((words, j) => {
  const widths = words.map(measureRich);
  const total = widths.reduce((a, b) => a + b, 0);
  mctx.font = CAP_SIZE + 'px "' + CAP_FONT + '"';
  const spaceW = mctx.measureText(' ').width;
  const justify = j < captionLines.length - 1;
  const gap = justify ? (capRightPx - capLeftPx - total) / (words.length - 1) : spaceW;
  let xpos = capLeftPx;
  words.forEach((w, n) => {
    layout.annotations.push({
      xref: 'paper', yref: 'paper', x: px2x(xpos - 1), y: px2y(captionY[j]), xanchor: 'left', yanchor: 'middle',
      showarrow: false, align: 'left', text: w, borderpad: 0,
      font: {family: CAP_FONT + ', sans-serif', size: CAP_SIZE, color: '#1e1e1e'}
    });
    xpos += widths[n] + gap;
  });
});

// rounded figure border
(function () {
  const x0 = px2x(3), x1 = px2x(1290), y0 = px2y(785), y1 = px2y(3);
  const rx = 10 / PW, ry = 10 / PH;
  const path = `M ${x0 + rx},${y1} L ${x1 - rx},${y1} Q ${x1},${y1} ${x1},${y1 - ry} L ${x1},${y0 + ry} Q ${x1},${y0} ${x1 - rx},${y0} L ${x0 + rx},${y0} Q ${x0},${y0} ${x0},${y0 + ry} L ${x0},${y1 - ry} Q ${x0},${y1} ${x0 + rx},${y1} Z`;
  layout.shapes.push({type: 'path', xref: 'paper', yref: 'paper', path: path, line: {color: '#9a9a9a', width: 1}, layer: 'below'});
})();

Plotly.newPlot('chart', traces, layout, {displayModeBar: false, staticPlot: true});
</script>
</body></html>
